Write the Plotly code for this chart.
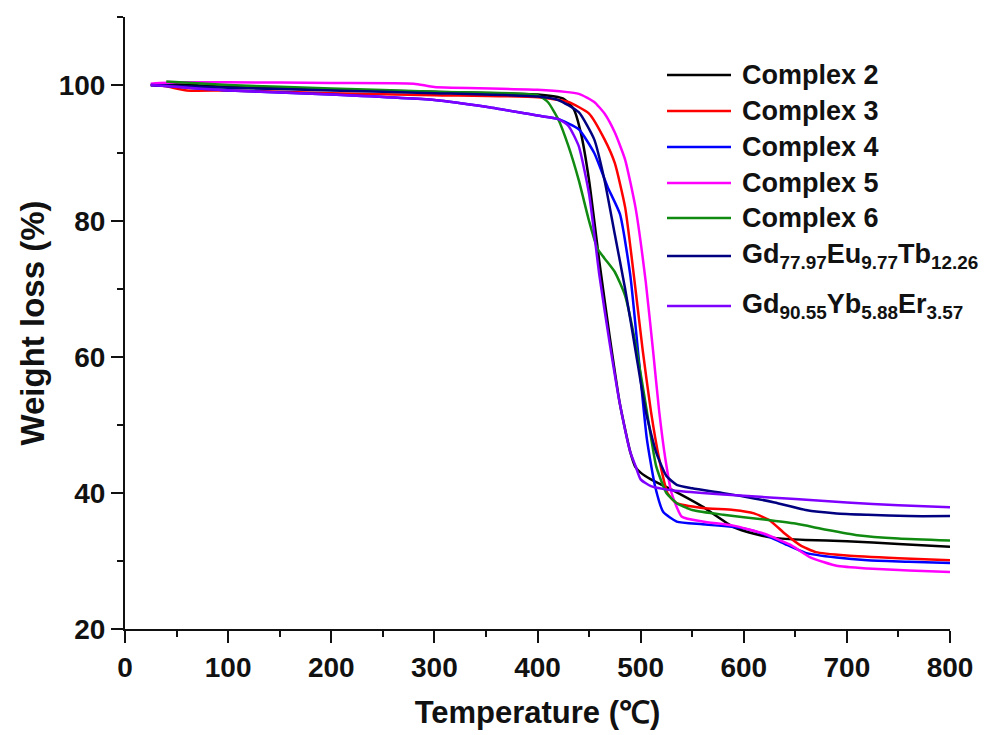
import plotly.graph_objects as go

# ---------------- data ----------------
names = ["Complex 2", "Complex 3", "Complex 4", "Complex 5", "Complex 6",
         "Gd<sub>77.97</sub>Eu<sub>9.77</sub>Tb<sub>12.26</sub>",
         "Gd<sub>90.55</sub>Yb<sub>5.88</sub>Er<sub>3.57</sub>"]
colors = ["#000000", "#ff0000", "#0000ff", "#ff00ff", "#108a10", "#000080", "#8000ff"]

c2_T = [25, 50, 100, 200, 300, 400, 425, 435, 442, 450, 460, 470, 480, 490, 495, 500, 510, 530, 560, 590, 610, 630, 660, 700, 750, 800]
c2_W = [100, 100.1, 99.7, 99.3, 99.0, 98.6, 98.0, 96.5, 93, 86, 74, 63, 53, 46, 43.8, 43, 42, 40.5, 38, 35, 34, 33.4, 33.1, 32.9, 32.5, 32.1]

c3_T = [25, 40, 60, 100, 200, 300, 400, 430, 450, 465, 475, 485, 495, 502, 510, 518, 526, 535, 560, 590, 610, 625, 640, 655, 670, 700, 750, 800]
c3_W = [100, 99.8, 99.2, 99.2, 98.8, 98.5, 98.2, 97.5, 95.8, 92, 88.5, 82, 70, 61, 52, 45, 40, 38.5, 37.8, 37.5, 37, 36, 34, 32.3, 31.3, 30.8, 30.4, 30.1]

c4_T = [25, 100, 200, 300, 350, 400, 420, 440, 455, 468, 480, 490, 498, 506, 514, 522, 535, 560, 600, 620, 640, 660, 690, 720, 760, 800]
c4_W = [100, 99.2, 98.6, 97.8, 96.8, 95.5, 95, 93.5, 90, 85, 81, 72, 60, 48, 41, 37.2, 35.8, 35.4, 34.8, 33.9, 32.5, 31.2, 30.5, 30.1, 29.9, 29.7]

c5_T = [25, 50, 100, 200, 280, 300, 400, 440, 455, 465, 475, 485, 495, 505, 512, 518, 524, 530, 540, 560, 590, 620, 645, 665, 690, 720, 760, 800]
c5_W = [100.2, 100.4, 100.4, 100.3, 100.2, 99.7, 99.3, 98.7, 97.5, 95.8, 93, 89, 82, 71, 61, 52, 45, 40, 36.5, 35.8, 35.2, 34, 32.4, 30.5, 29.3, 28.9, 28.6, 28.4]

c6_T = [40, 100, 200, 300, 400, 410, 420, 430, 440, 450, 458, 465, 475, 485, 495, 505, 515, 525, 535, 550, 580, 620, 650, 680, 710, 750, 800]
c6_W = [100.5, 100, 99.5, 99, 98.5, 97.5, 95, 91, 86, 80, 76, 74.5, 72.5, 69, 62, 53, 44, 40, 38.5, 37.5, 36.8, 36.1, 35.5, 34.6, 33.8, 33.3, 33.0]

gd77_T = [25, 100, 200, 300, 400, 420, 440, 455, 465, 475, 485, 495, 505, 515, 525, 535, 550, 575, 600, 630, 660, 690, 720, 760, 800]
gd77_W = [100, 99.6, 99.2, 98.8, 98.3, 97.8, 96, 92, 86, 78, 70, 61, 52, 46, 42.5, 41.2, 40.7, 40.1, 39.5, 38.6, 37.5, 37, 36.8, 36.6, 36.6]

gd90_T = [25, 100, 200, 300, 350, 400, 420, 430, 440, 450, 460, 470, 480, 490, 495, 500, 510, 530, 560, 600, 650, 700, 750, 800]
gd90_W = [100, 99.2, 98.6, 97.8, 96.8, 95.5, 95, 94, 91, 84, 72, 62, 53, 46, 44, 42, 41, 40.4, 40, 39.6, 39.1, 38.6, 38.2, 37.9]

series_T = [c2_T, c3_T, c4_T, c5_T, c6_T, gd77_T, gd90_T]
series_W = [c2_W, c3_W, c4_W, c5_W, c6_W, gd77_W, gd90_W]

x_ticks = [0, 100, 200, 300, 400, 500, 600, 700, 800]
y_ticks = [20, 40, 60, 80, 100]

# ---------------- figure ----------------
FONT = "Liberation Sans, Arial, sans-serif"
fig = go.Figure()
for n, c, T, W in zip(names, colors, series_T, series_W):
    fig.add_trace(go.Scatter(x=T, y=W, mode="lines", name=n,
                             line=dict(color=c, width=2.5, shape="spline", smoothing=0.5),
                             showlegend=False))

# manual legend (line sample + label), positioned in paper coordinates
L, R, T0, B0 = 125, 950, 17, 629
def px2paper(px, py):
    return (px - L) / (R - L), (B0 - py) / (B0 - T0)

rows_py = [75, 111, 147, 183, 218, 256, 306]
for n, c, py in zip(names, colors, rows_py):
    x0, y0 = px2paper(667, py)
    x1, _ = px2paper(731, py)
    fig.add_shape(type="line", xref="paper", yref="paper", x0=x0, x1=x1, y0=y0, y1=y0,
                  line=dict(color=c, width=2.5))
    tx, ty = px2paper(740, py)
    fig.add_annotation(xref="paper", yref="paper", x=tx, y=ty, text="<b>" + n + "</b>",
                       showarrow=False, xanchor="left", yanchor="middle",
                       font=dict(family=FONT, size=27, color="#111111"))

axis_common = dict(showline=True, linecolor="#111111", linewidth=2, mirror=False,
                   ticks="outside", ticklen=12, tickwidth=2, tickcolor="#111111",
                   showgrid=False, zeroline=False,
                   tickfont=dict(family=FONT, size=28, color="#111111", weight="bold"))

fig.update_layout(
    width=1001, height=735,
    margin=dict(l=125, r=51, t=17, b=106),
    plot_bgcolor="white", paper_bgcolor="white",
    xaxis=dict(range=[0, 800], tickvals=x_ticks,
               minor=dict(dtick=50, ticks="outside", ticklen=6, tickwidth=2, tickcolor="#111111"),
               title=dict(text="Temperature (℃)", standoff=20,
                          font=dict(family=FONT, size=31, color="#111111", weight="bold")),
               **axis_common),
    yaxis=dict(range=[20, 110], tickvals=y_ticks,
               minor=dict(dtick=10, ticks="outside", ticklen=6, tickwidth=2, tickcolor="#111111"),
               title=dict(text="Weight loss (%)", standoff=4,
                          font=dict(family=FONT, size=33, color="#111111", weight="bold")),
               **axis_common),
)

fig.write_html("out.html")
